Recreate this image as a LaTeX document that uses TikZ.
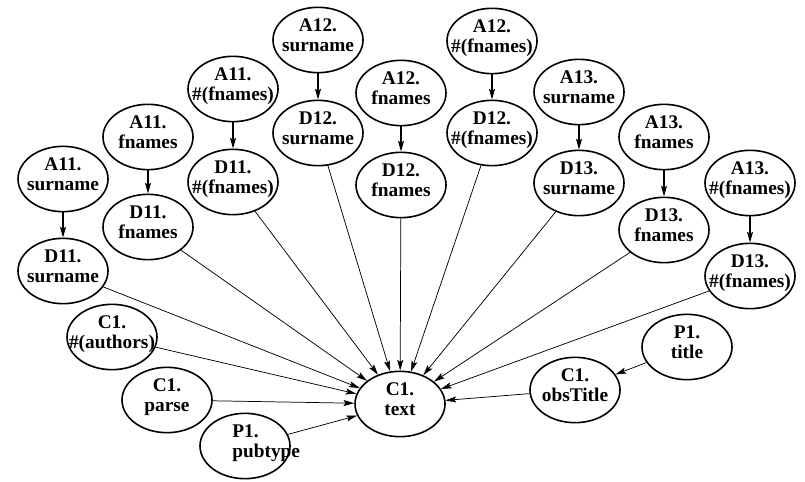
\documentclass[tikz,border=0pt]{standalone}
\usepackage{fontspec}
\setmainfont{Liberation Serif}
\usetikzlibrary{shapes.geometric,arrows.meta}
\newcommand\tl[2]{\smash{\makebox[0pt]{\raisebox{-1.5pt}{\begin{tabular}{@{}c@{}}#1\\#2\end{tabular}}}}}
\newcommand\tll[2]{\smash{\makebox[0pt][l]{\hspace{-9.5pt}\raisebox{-1.5pt}{\begin{tabular}{@{}l@{}}#1\\#2\end{tabular}}}}}
\begin{document}
\begin{tikzpicture}[x=0.75pt,y=-0.75pt,
  ell/.style={ellipse, draw, line width=1.2pt, minimum width=67.5pt, minimum height=49pt, inner sep=0pt,
    font=\bfseries\fontsize{14.5}{15}\selectfont},
  down/.style={line width=0.9pt, -{Stealth[length=8pt,width=4.5pt,inset=1.5pt]}},
  feed/.style={line width=0.55pt, -{Stealth[length=8pt,width=4.5pt,inset=1.5pt]}}]
\useasboundingbox (0,0) rectangle (805,481);
% A row
\node[ell] (A11s) at (63,179) {\tl{A11.}{surname}};
\node[ell] (A11f) at (148,137) {\tl{A11.}{fnames}};
\node[ell] (A11h) at (233,89) {\tl{A11.}{\#(fnames)}};
\node[ell] (A12s) at (318,40) {\tl{A12.}{surname}};
\node[ell] (A12f) at (401,93) {\tl{A12.}{fnames}};
\node[ell] (A12h) at (492,41) {\tl{A12.}{\#(fnames)}};
\node[ell] (A13s) at (579,92) {\tl{A13.}{surname}};
\node[ell] (A13f) at (664,137) {\tl{A13.}{fnames}};
\node[ell] (A13h) at (750,183) {\tl{A13.}{\#(fnames)}};
% D row
\node[ell] (D11s) at (63,271) {\tl{D11.}{surname}};
\node[ell] (D11f) at (148,227) {\tl{D11.}{fnames}};
\node[ell] (D11h) at (233,182) {\tl{D11.}{\#(fnames)}};
\node[ell] (D12s) at (318,133) {\tl{D12.}{surname}};
\node[ell] (D12f) at (401,185) {\tl{D12.}{fnames}};
\node[ell] (D12h) at (492,133) {\tl{D12.}{\#(fnames)}};
\node[ell] (D13s) at (579,183) {\tl{D13.}{surname}};
\node[ell] (D13f) at (664,230) {\tl{D13.}{fnames}};
\node[ell] (D13h) at (750,276) {\tl{D13.}{\#(fnames)}};
% others
\node[ell] (C1a) at (112,337) {\tl{C1.}{\#(authors)}};
\node[ell] (C1p) at (167,400) {\tl{C1.}{parse}};
\node[ell] (P1p) at (245,446) {\tll{P1.}{pubtype}};
\node[ell] (C1t) at (400,404) {\tl{C1.}{text}};
\node[ell] (C1o) at (575,390) {\tl{C1.}{obsTitle}};
\node[ell] (P1t) at (687,347) {\tl{P1.}{title}};
% vertical arrows
\foreach \g in {11s,11f,11h,12s,12f,12h,13s,13f,13h}
  \draw[down] (A\g) -- (D\g);
% feeds into C1.text
\foreach \n in {D11s,D11f,D11h,D12s,D12f,D12h,D13s,D13f,D13h,C1a,C1p,P1p,C1o}
  \draw[feed] (\n) -- (C1t);
\draw[feed] (P1t) -- (C1o);
\end{tikzpicture}
\end{document}
